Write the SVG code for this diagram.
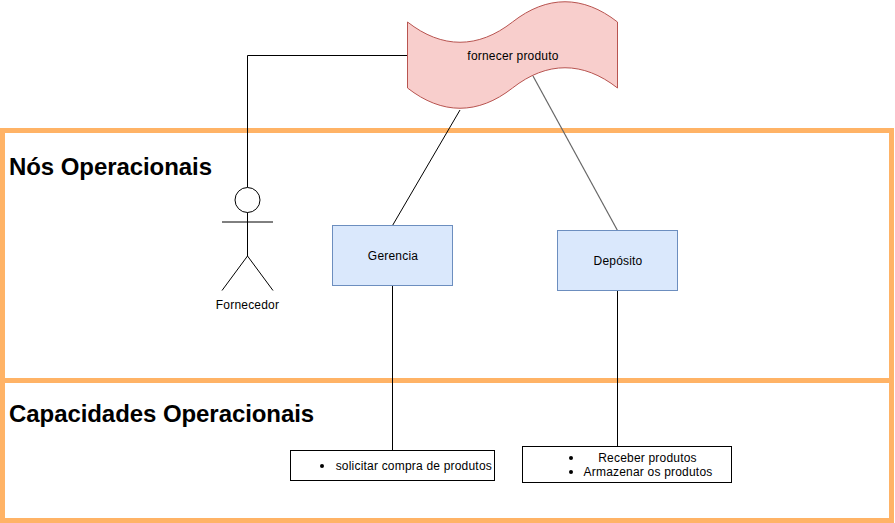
<svg xmlns="http://www.w3.org/2000/svg" width="895" height="523" viewBox="0 0 895 523">
<style>
text{font-family:"Liberation Sans",Arial,sans-serif;font-size:12px;fill:#000;text-anchor:middle;letter-spacing:.2px}
.h{font-size:24px;font-weight:bold;text-anchor:start;letter-spacing:-.07px}
.l{fill:none;stroke:#000;stroke-width:1}
.g{stroke:#666;stroke-width:1.2}
.o{fill:none;stroke:#ffb366;stroke-width:5}
.b{fill:#dae8fc;stroke:#6c8ebf;stroke-width:1}
.c{fill:#fff;stroke:#000;stroke-width:1}
</style>
<rect width="895" height="523" fill="#fff"/>
<g id="frames">
<rect class="o" x="2.5" y="130.5" width="889" height="250"/>
<rect class="o" x="2.5" y="380.5" width="889" height="140"/>
<text class="h" x="9" y="175">Nós Operacionais</text>
<text class="h" x="9" y="422">Capacidades Operacionais</text>
</g>
<g id="connectors">
<path class="l" d="M407.5 55.5H247.5V187.5"/>
<path class="l" d="M460 110L392.5 225.5"/>
<path class="l g" d="M533 76L617.5 230.5"/>
<path class="l" d="M392.5 285.5V450.5"/>
<path class="l" d="M617.5 290.5V446.5"/>
</g>
<g id="process">
<path d="M407.5 22C442 49 478 49 512.5 22C547 -5 583 -5 617.5 22V88C583 61 547 61 512.5 88C478 115 442 115 407.5 88Z" fill="#f8cecc" stroke="#b85450"/>
<text x="513" y="60">fornecer produto</text>
</g>
<g id="fornecedor">
<circle cx="247.5" cy="200" r="12.5" fill="#fff" stroke="#000"/>
<path class="l" d="M247.5 212.5V256M222 222H273M222 290.5L247.5 256L273 290.5"/>
<text x="247.5" y="309">Fornecedor</text>
</g>
<g id="gerencia">
<rect class="b" x="332.5" y="225.5" width="120" height="60"/>
<text x="393" y="260">Gerencia</text>
</g>
<g id="deposito">
<rect class="b" x="557.5" y="230.5" width="120" height="60"/>
<text x="618" y="265">Depósito</text>
</g>
<g id="cap-gerencia">
<rect class="c" x="290.5" y="450.5" width="204" height="30"/>
<circle cx="322" cy="466" r="2"/>
<text x="413.8" y="470">solicitar compra de produtos</text>
</g>
<g id="cap-deposito">
<rect class="c" x="522.5" y="446.5" width="209" height="36"/>
<circle cx="571" cy="458" r="2"/>
<circle cx="571" cy="472" r="2"/>
<text x="647.5" y="462">Receber produtos</text>
<text x="648" y="476">Armazenar os produtos</text>
</g>
</svg>
